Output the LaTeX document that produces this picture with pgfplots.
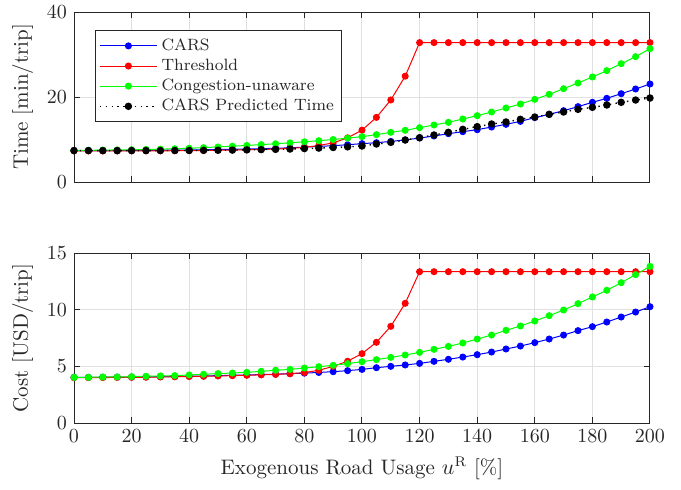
\documentclass[border=0pt]{standalone}
\usepackage{pgfplots}
\pgfplotsset{compat=1.18}
\usepackage{pgfplotstable}

\pgfplotstableread{
x blue red green black
0 7.40 7.30 7.40 7.40
5 7.40 7.30 7.45 7.40
10 7.40 7.30 7.50 7.40
15 7.40 7.30 7.55 7.40
20 7.42 7.31 7.60 7.40
25 7.44 7.32 7.66 7.40
30 7.46 7.34 7.73 7.40
35 7.50 7.36 7.82 7.41
40 7.54 7.39 7.94 7.42
45 7.58 7.42 8.08 7.45
50 7.63 7.46 8.25 7.48
55 7.69 7.51 8.42 7.52
60 7.76 7.57 8.60 7.57
65 7.84 7.65 8.80 7.62
70 7.93 7.75 9.00 7.68
75 8.05 7.90 9.22 7.76
80 8.20 8.15 9.46 7.86
85 8.37 8.60 9.72 7.98
90 8.55 9.20 10.00 8.12
95 8.77 10.40 10.32 8.28
100 9.02 12.20 10.67 8.47
105 9.25 15.20 11.14 8.94
110 9.55 19.30 11.69 9.33
115 9.90 24.90 12.16 9.88
120 10.35 32.80 12.78 10.43
125 10.82 32.80 13.41 11.06
130 11.37 32.80 14.04 11.69
135 11.84 32.80 14.82 12.39
140 12.31 32.80 15.61 13.02
145 12.94 32.80 16.47 13.65
150 13.57 32.80 17.41 14.12
155 14.27 32.80 18.35 14.75
160 15.14 32.80 19.45 15.29
165 15.92 32.80 20.63 15.92
170 16.78 32.80 21.96 16.47
175 17.73 32.80 23.29 17.10
180 18.75 32.80 24.71 17.57
185 19.69 32.80 26.20 18.12
190 20.78 32.80 27.84 18.75
195 21.88 32.80 29.49 19.29
200 23.06 32.80 31.37 19.76
}\timetable

\pgfplotstableread{
x blue red green
0 4.03 4.00 4.03
5 4.03 4.00 4.03
10 4.04 4.01 4.06
15 4.05 4.02 4.06
20 4.06 4.03 4.09
25 4.07 4.04 4.12
30 4.09 4.06 4.15
35 4.11 4.08 4.18
40 4.13 4.10 4.24
45 4.15 4.12 4.30
50 4.18 4.15 4.36
55 4.21 4.18 4.41
60 4.24 4.21 4.47
65 4.27 4.25 4.56
70 4.31 4.29 4.65
75 4.35 4.35 4.73
80 4.40 4.45 4.85
85 4.46 4.65 4.97
90 4.53 5.00 5.09
95 4.62 5.45 5.24
100 4.73 6.12 5.41
105 4.88 7.12 5.59
110 5.00 8.53 5.79
115 5.12 10.56 6.00
120 5.26 13.35 6.23
125 5.44 13.35 6.50
130 5.62 13.35 6.76
135 5.82 13.35 7.06
140 6.03 13.35 7.41
145 6.26 13.35 7.76
150 6.53 13.35 8.18
155 6.79 13.35 8.56
160 7.09 13.35 9.00
165 7.41 13.35 9.47
170 7.76 13.35 9.97
175 8.15 13.35 10.53
180 8.50 13.35 11.12
185 8.91 13.35 11.71
190 9.35 13.35 12.38
195 9.79 13.35 13.09
200 10.26 13.35 13.82
}\costtable

\definecolor{axgray}{gray}{0.15}
\definecolor{gridgray}{gray}{0.88}

\pgfplotsset{
  myaxis/.style={
    scale only axis, width=288pt, height=85pt,
    xmin=0, xmax=200, xtick={0,20,...,200},
    axis line style={axgray, line width=0.5pt},
    tick style={axgray, line width=0.5pt},
    major tick length=3pt,
    tick pos=both,
    ticklabel style={text=axgray, font=\fontsize{10.3}{12}\selectfont},
    label style={text=axgray, font=\fontsize{10.5}{12}\selectfont},
    grid=major, grid style={gridgray, line width=0.5pt},
    every axis plot/.append style={line width=0.5pt, mark=*, mark size=1.5pt},
    legend image code/.code={\draw[mark repeat=2,mark phase=2] plot coordinates {(0cm,0cm) (0.5cm,0cm) (1cm,0cm)};},
  }
}

\begin{document}
\begin{tikzpicture}
\path[use as bounding box] (0,0) rectangle (340.5pt,244.5pt);
\begin{axis}[myaxis, at={(37pt,153.5pt)}, anchor=south west,
  ymin=0, ymax=40, ytick={0,20,40}, xticklabels={},
  ylabel={Time [min/trip]},
  legend style={at={(rel axis cs:0.036,0.894)}, anchor=north west,
    draw=axgray, line width=0.5pt, font=\fontsize{8.2}{10}\selectfont, text=axgray,
    row sep=-1.2pt, inner sep=2pt},
  legend cell align=left]
\addplot[blue, mark options={fill=blue}] table[x=x,y=blue] {\timetable};
\addlegendentry{CARS}
\addplot[red, mark options={fill=red}] table[x=x,y=red] {\timetable};
\addlegendentry{Threshold}
\addplot[green, mark options={fill=green}] table[x=x,y=green] {\timetable};
\addlegendentry{Congestion-unaware}
\addplot[black, line width=0.7pt, dash pattern=on 0.7pt off 2.2pt, mark options={solid, fill=black}] table[x=x,y=black] {\timetable};
\addlegendentry{CARS Predicted Time}
\end{axis}
\begin{axis}[myaxis, at={(37pt,33pt)}, anchor=south west,
  ymin=0, ymax=15, ytick={0,5,10,15},
  ylabel={Cost [USD/trip]},
  xlabel={Exogenous Road Usage $u^{\mathrm{R}}$ [\%]}]
\addplot[blue, mark options={fill=blue}] table[x=x,y=blue] {\costtable};
\addplot[red, mark options={fill=red}] table[x=x,y=red] {\costtable};
\addplot[green, mark options={fill=green}] table[x=x,y=green] {\costtable};
\end{axis}
\end{tikzpicture}
\end{document}
